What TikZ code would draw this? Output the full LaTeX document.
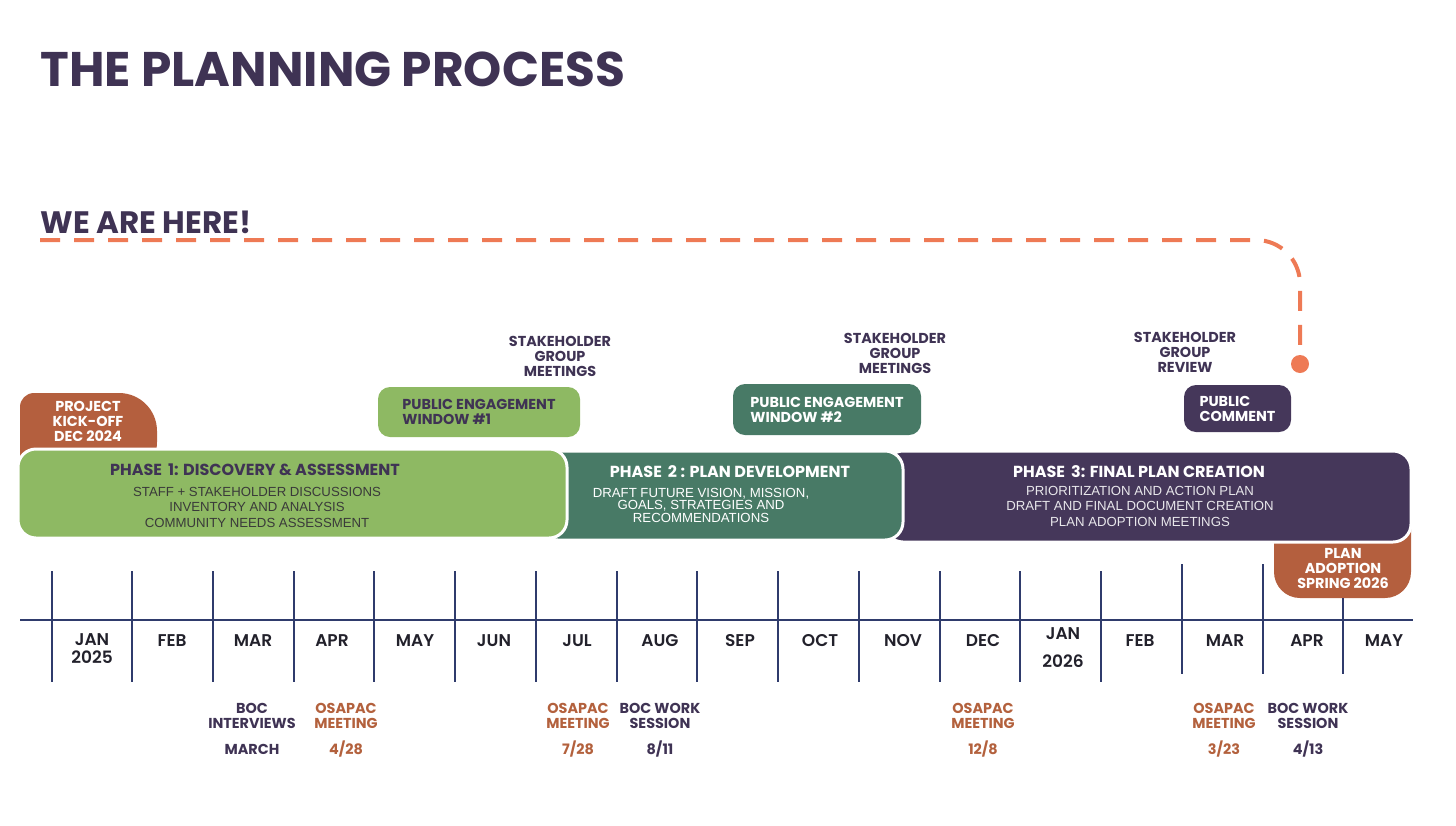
\documentclass[tikz,border=0pt]{standalone}
\usepackage{fontspec}
\setmainfont{Liberation Sans}
\newfontfamily\dispfont{Poppins}
\newfontfamily\monthfont{Poppins SemiBold}
\usetikzlibrary{positioning}

\definecolor{plum}{HTML}{3F3354}
\definecolor{plumbox}{HTML}{45375A}
\definecolor{leaf}{HTML}{8EB963}
\definecolor{pine}{HTML}{487A66}
\definecolor{rust}{HTML}{B45F3E}
\definecolor{rusttext}{HTML}{B3613D}
\definecolor{coral}{HTML}{EE7A55}
\definecolor{navy}{HTML}{2F3B6C}
\definecolor{ink}{HTML}{22212B}
\definecolor{bodygray}{HTML}{3A3A3A}

\begin{document}
\begin{tikzpicture}[
    x=0.5pt, y=-0.5pt,
    disp/.style={font=\dispfont\bfseries\fontsize{7.2}{7.5}\selectfont, align=center, inner sep=0pt},
    body/.style={font=\fontsize{6.6}{7.75}\selectfont, align=center, inner sep=0pt},
    phasebox/.style={draw=white, line width=1.5pt, rounded corners=9pt, inner sep=0pt},
    phasetitle/.style={disp, font=\dispfont\bfseries\fontsize{8}{9}\selectfont},
    winbox/.style={rounded corners=6pt, inner sep=0pt},
    wintext/.style={disp, align=left},
    tick/.style={navy, line width=0.6pt},
    yeartick/.style={navy, line width=1.1pt},
    mon/.style={font=\monthfont\fontsize{8.5}{9}\selectfont, text=ink, align=center, inner sep=0pt},
    boc/.style={disp, text=plum},
    osa/.style={disp, text=rusttext},
    herepath/.style={coral, line width=2pt, dash pattern=on 10pt off 7pt, rounded corners=22pt},
    nowdot/.style={circle, fill=coral, inner sep=0pt, minimum size=9pt},
  ]
  \useasboundingbox (0,0) rectangle (1456,825);

  % ---------- headings ----------
  \node[anchor=base west, inner sep=0pt, text=plum,
        font=\dispfont\bfseries\fontsize{24.3}{26}\selectfont] (title) at (40,86) {THE PLANNING PROCESS};
  \node[anchor=base west, inner sep=0pt, text=plum,
        font=\dispfont\bfseries\fontsize{15.5}{17}\selectfont] (here) at (40,233) {WE ARE HERE!};

  % ---------- we are here marker ----------
  \coordinate (herestart) at (40,240);
  \node[nowdot] (now) at (1300,364) {};
  \draw[herepath] (herestart) -- (1300,240) -- (now.north);

  % ---------- stakeholder notes ----------
  \node[disp, text=plum] (stake1) at (560,356) {STAKEHOLDER\\GROUP\\MEETINGS};
  \node[disp, text=plum] (stake2) at (895,353) {STAKEHOLDER\\GROUP\\MEETINGS};
  \node[disp, text=plum] (stake3) at (1185,352) {STAKEHOLDER\\GROUP\\REVIEW};

  % ---------- engagement windows ----------
  \node[winbox, fill=leaf, minimum width=202*0.5pt, minimum height=50*0.5pt] (win1) at (479,412) {};
  \node[wintext, text=plum] (win1t) at (win1) {PUBLIC ENGAGEMENT\\WINDOW \#1};
  \node[winbox, fill=pine, minimum width=188*0.5pt, minimum height=51*0.5pt] (win2) at (827,409.5) {};
  \node[wintext, text=white] (win2t) at (win2) {PUBLIC ENGAGEMENT\\WINDOW \#2};
  \node[winbox, fill=plumbox, minimum width=107*0.5pt, minimum height=47*0.5pt] (comment) at (1237.5,408.5) {};
  \node[wintext, text=white] (commentt) at (comment) {PUBLIC\\COMMENT};

  % ---------- tabs behind the phases ----------
  \fill[rust, rounded corners=19pt] (20,393) rectangle (157,480);
  \fill[rust, rounded corners=7pt] (20,393) rectangle (100,480);
  \node[disp, text=white] (kick) at (88,421) {PROJECT\\KICK-OFF\\DEC 2024};
  \fill[rust, rounded corners=13pt] (1274,500) rectangle (1411,598);
  \node[disp, text=white] (adopt) at (1343,568) {PLAN\\ADOPTION\\SPRING 2026};

  % ---------- phases ----------
  \node[phasebox, fill=plumbox, minimum width=526*0.5pt, minimum height=91*0.5pt] (ph3) at (1148,496.5) {};
  \node[phasebox, fill=pine, minimum width=363*0.5pt, minimum height=89*0.5pt] (ph2) at (721.5,495.5) {};
  \node[phasebox, fill=leaf, minimum width=549*0.5pt, minimum height=89*0.5pt] (ph1) at (292.5,493.5) {};

  \node[phasetitle, text=plum] (ph1t) at (255,470) {PHASE\, 1: DISCOVERY \& ASSESSMENT};
  \node[body, text=bodygray] (ph1b) at (257,507) {STAFF + STAKEHOLDER DISCUSSIONS\\INVENTORY AND ANALYSIS\\COMMUNITY NEEDS ASSESSMENT};
  \node[phasetitle, text=white] (ph2t) at (730,472) {PHASE\, 2 : PLAN DEVELOPMENT};
  \node[body, text=white, font=\fontsize{6.6}{6.25}\selectfont] (ph2b) at (701,505) {DRAFT FUTURE VISION, MISSION,\\GOALS, STRATEGIES AND\\RECOMMENDATIONS};
  \node[phasetitle, text=white] (ph3t) at (1139,472) {PHASE\, 3: FINAL PLAN CREATION};
  \node[body, text=white!88!plum] (ph3b) at (1140,506) {PRIORITIZATION AND ACTION PLAN\\DRAFT AND FINAL DOCUMENT CREATION\\PLAN ADOPTION MEETINGS};

  % ---------- timeline ----------
  \draw[tick] (20,620) -- (1413,620);
  \foreach \x in {52,213,294,374,455,536,617,697,778,859,940,1020}
    \draw[tick] (\x,571) -- (\x,682);
  \foreach \x in {132,1101}
    \draw[yeartick] (\x,571) -- (\x,682);
  \foreach \x in {1182,1263}
    \draw[tick] (\x,564) -- (\x,674);
  \draw[tick] (1343,598) -- (1343,674);

  \node[mon, font=\monthfont\fontsize{8.5}{8.6}\selectfont] (jan25) at (92,648.5) {JAN\\2025};
  \node[mon, font=\monthfont\fontsize{8.5}{14}\selectfont] (jan26) at (1063,648) {JAN\\2026};
  \foreach \m/\x [count=\i] in {FEB/172,MAR/253,APR/332,MAY/415,JUN/494,JUL/577,AUG/660,
      SEP/740,OCT/820,NOV/903,DEC/983,FEB/1140,MAR/1225,APR/1307,MAY/1384}
    \node[mon] (mon\i) at (\x,641) {\m};

  % ---------- meetings ----------
  \node[boc] (bocint) at (252,715.5) {BOC\\INTERVIEWS};
  \node[boc] (bocintd) at (252,749) {MARCH};
  \foreach \x/\d [count=\i] in {660/{8/11},1308/{4/13}} {
    \node[boc] (boc\i) at (\x,715.5) {BOC WORK\\SESSION};
    \node[boc] (boc\i d) at (\x,749) {\d};
  }
  \foreach \x/\d [count=\i] in {346/{4/28},578/{7/28},983/{12/8},1224/{3/23}} {
    \node[osa] (osa\i) at (\x,715.5) {OSAPAC\\MEETING};
    \node[osa] (osa\i d) at (\x,749) {\d};
  }
\end{tikzpicture}
\end{document}
